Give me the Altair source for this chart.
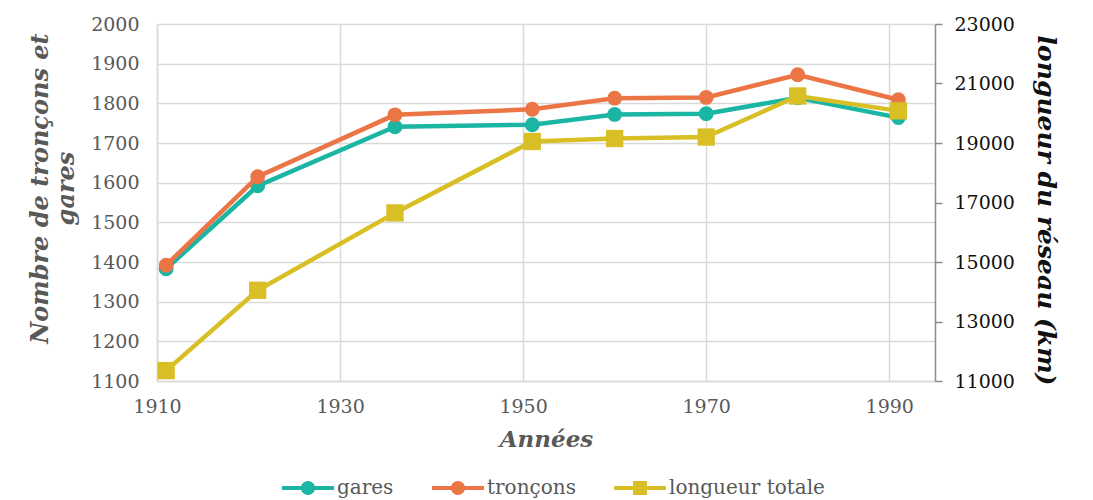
import altair as alt
import pandas as pd

years = [1911, 1921, 1936, 1951, 1960, 1970, 1980, 1991]
gares = [1383, 1592, 1741, 1746, 1772, 1774, 1814, 1764]
troncons = [1392, 1615, 1771, 1785, 1813, 1815, 1872, 1809]
longueur = [11350, 14050, 16650, 19050, 19150, 19200, 20580, 20080]

series = ["gares", "tronçons", "longueur totale"]
colors = ["#1bb5a4", "#ec7546", "#d9bf26"]

x_ticks = [1910, 1930, 1950, 1970, 1990]
left_ticks = [1100, 1200, 1300, 1400, 1500, 1600, 1700, 1800, 1900, 2000]
right_ticks = [11000, 13000, 15000, 17000, 19000, 21000, 23000]

FONT = "DejaVu Serif"
GRAY = "#595959"
GRID = "#d9d9d9"

df = pd.DataFrame({"annee": years, "gares": gares, "troncons": troncons, "longueur": longueur})

xenc = alt.X("annee:Q", scale=alt.Scale(domain=[1910, 1995], nice=False, zero=False),
             axis=alt.Axis(values=x_ticks, format="d", title="Années", grid=True, gridColor=GRID,
                           gridWidth=1.5, domainColor=GRID, domainWidth=1.5, ticks=False,
                           labelFlush=False, labelOverlap=False,
                           labelFont=FONT, labelFontSize=19, labelColor=GRAY, labelPadding=16,
                           titleFont=FONT, titleFontSize=23, titleFontStyle="italic",
                           titleFontWeight="bold", titleColor=GRAY, titlePadding=12))

left_axis = alt.Axis(values=left_ticks, format="d", title=["Nombre de tronçons et", "gares"],
                     grid=True, gridColor=GRID, gridWidth=1.5, domainColor=GRID, domainWidth=1.5,
                     ticks=False, labelFlush=False, labelOverlap=False,
                     labelFont=FONT, labelFontSize=19, labelColor=GRAY, labelPadding=18,
                     titleFont=FONT, titleFontSize=24, titleFontStyle="italic", titleFontWeight="bold",
                     titleColor=GRAY, titlePadding=12, titleY=164, orient="left")
left_scale = alt.Scale(domain=[1100, 2000], nice=False, zero=False)

right_axis = alt.Axis(values=right_ticks, format="d", title="longueur du réseau (km)", grid=False,
                      domainColor="#8c8c8c", domainWidth=1.5, ticks=True, tickColor="#8c8c8c",
                      tickSize=7, tickWidth=1.5, labelFlush=False, labelOverlap=False,
                      labelFont=FONT, labelFontSize=19, labelColor="#111111",
                      labelPadding=12, titleFont=FONT, titleFontSize=25, titleFontStyle="italic",
                      titleFontWeight="bold", titleColor="#111111", titlePadding=18, titleAngle=90,
                      titleY=186, orient="right")
right_scale = alt.Scale(domain=[11000, 23000], nice=False, zero=False)

base = alt.Chart(df)


def series_layers(field, color, shape, size, axis, scale):
    y = alt.Y(f"{field}:Q", scale=scale, axis=axis)
    line = base.mark_line(color=color, strokeWidth=4.5).encode(x=xenc, y=y)
    pts = base.mark_point(color=color, filled=True, opacity=1, shape=shape, size=size).encode(x=xenc, y=y)
    return [line, pts]


left = alt.layer(*series_layers("gares", colors[0], "circle", 220, left_axis, left_scale),
                 *series_layers("troncons", colors[1], "circle", 220, left_axis, left_scale))
right = alt.layer(*series_layers("longueur", colors[2], "square", 300, right_axis, right_scale))

circ = "M-1,-0.08L1,-0.08L1,0.08L-1,0.08Z M0.27,0A0.27,0.27 0 1,1 -0.27,0A0.27,0.27 0 1,1 0.27,0Z"
sq = "M-1,-0.08L1,-0.08L1,0.08L-1,0.08Z M-0.27,-0.27L0.27,-0.27L0.27,0.27L-0.27,0.27Z"

legend_df = pd.DataFrame({"serie": series})
legend_layer = alt.Chart(legend_df).mark_point(filled=True, opacity=1).encode(
    color=alt.Color("serie:N", scale=alt.Scale(domain=series, range=colors),
                    legend=alt.Legend(title=None, orient="none", direction="horizontal",
                                      legendX=125, legendY=438, symbolSize=2700,
                                      symbolStrokeWidth=0, labelFont=FONT, labelFontSize=20,
                                      labelColor=GRAY, labelOffset=3, columnPadding=38)),
    shape=alt.Shape("serie:N", scale=alt.Scale(domain=series, range=[circ, circ, sq]), legend=None),
).transform_filter("false")

chart = alt.layer(left, right, legend_layer).resolve_scale(y="independent", color="independent", shape="independent").properties(
    width=778, height=357,
    autosize=alt.AutoSizeParams(type="none"),
    padding={"left": 149, "top": 16, "right": 150, "bottom": 119},
).configure_view(stroke=None)

chart.save("out.html", embed_options={"renderer": "svg", "actions": False})
